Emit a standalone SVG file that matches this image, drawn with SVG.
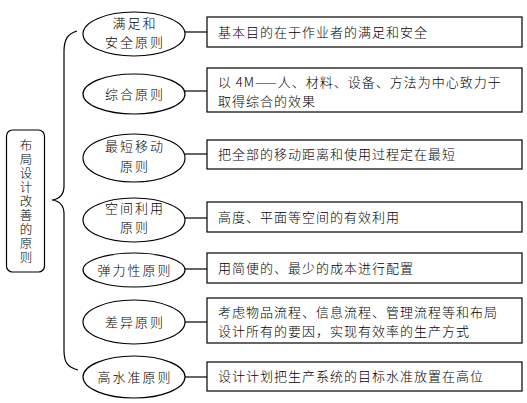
<svg xmlns="http://www.w3.org/2000/svg" width="527" height="403" viewBox="0 0 527 403">
<style>
  .shape { fill: #ffffff; stroke: #000000; stroke-width: 1.2; }
  .line { fill: none; stroke: #000000; stroke-width: 1.2; }
  text { font-family: "Noto Sans CJK SC", "Noto Sans", sans-serif; font-weight: 300; fill: #000000; }
  .el { font-size: 13px; text-anchor: middle; letter-spacing: 2px; }
  .bx { font-size: 13px; letter-spacing: 1px; }
  .root { font-size: 12.5px; writing-mode: vertical-rl; letter-spacing: 1.5px; }
</style>
<rect x="0" y="0" width="527" height="403" fill="#ffffff"/>
<g id="root">
  <rect class="shape" x="6.5" y="130" width="38" height="142" rx="6" ry="6"/>
  <text class="root" x="26" y="139">布局设计改善的原则</text>
</g>
<g id="connectors">
  <path class="line" d="M77,31 C67,34 64,40 64,52 L64,186 C64,195 60,199 52,200 C60,201 64,205 64,214 L64,350 C64,362 67,367 78,370"/>
  <line class="line" x1="185" y1="32" x2="207" y2="32"/>
  <line class="line" x1="185" y1="91" x2="207" y2="91"/>
  <line class="line" x1="185" y1="154" x2="207" y2="154"/>
  <line class="line" x1="185" y1="218" x2="207" y2="218"/>
  <line class="line" x1="185" y1="269" x2="207" y2="269"/>
  <line class="line" x1="185" y1="322" x2="207" y2="322"/>
  <line class="line" x1="185" y1="377" x2="207" y2="377"/>
</g>
<g id="n1">
  <ellipse class="shape" cx="134" cy="34" rx="51" ry="22"/>
  <text class="el" x="135" y="28">满足和<tspan x="135" dy="19">安全原则</tspan></text>
</g>
<g id="d1">
  <rect class="shape" x="207" y="17" width="315" height="30"/>
  <text class="bx" x="218" y="37">基本目的在于作业者的满足和安全</text>
</g>
<g id="n2">
  <ellipse class="shape" cx="134" cy="94" rx="51" ry="20"/>
  <text class="el" x="135" y="99">综合原则</text>
</g>
<g id="d2">
  <rect class="shape" x="207" y="68" width="315" height="44"/>
  <text class="bx" x="218" y="87">以 4M——人、材料、设备、方法为中心致力于<tspan x="218" dy="19">取得综合的效果</tspan></text>
</g>
<g id="n3">
  <ellipse class="shape" cx="134" cy="158" rx="51" ry="24"/>
  <text class="el" x="135" y="151">最短移动<tspan x="135" dy="20">原则</tspan></text>
</g>
<g id="d3">
  <rect class="shape" x="207" y="140" width="315" height="29"/>
  <text class="bx" x="218" y="159">把全部的移动距离和使用过程定在最短</text>
</g>
<g id="n4">
  <ellipse class="shape" cx="134" cy="220" rx="51" ry="22"/>
  <text class="el" x="135" y="213">空间利用<tspan x="135" dy="19">原则</tspan></text>
</g>
<g id="d4">
  <rect class="shape" x="207" y="202" width="315" height="30"/>
  <text class="bx" x="218" y="222">高度、平面等空间的有效利用</text>
</g>
<g id="n5">
  <ellipse class="shape" cx="134" cy="270" rx="51" ry="17"/>
  <text class="el" x="135" y="275">弹力性原则</text>
</g>
<g id="d5">
  <rect class="shape" x="207" y="253" width="315" height="30"/>
  <text class="bx" x="218" y="273">用简便的、最少的成本进行配置</text>
</g>
<g id="n6">
  <ellipse class="shape" cx="134" cy="322" rx="51" ry="22"/>
  <text class="el" x="135" y="327">差异原则</text>
</g>
<g id="d6">
  <rect class="shape" x="207" y="298" width="315" height="45"/>
  <text class="bx" x="218" y="317">考虑物品流程、信息流程、管理流程等和布局<tspan x="218" dy="19">设计所有的要因，实现有效率的生产方式</tspan></text>
</g>
<g id="n7">
  <ellipse class="shape" cx="134" cy="377" rx="51" ry="21"/>
  <text class="el" x="135" y="382">高水准原则</text>
</g>
<g id="d7">
  <rect class="shape" x="207" y="362" width="315" height="29"/>
  <text class="bx" x="218" y="381">设计计划把生产系统的目标水准放置在高位</text>
</g>
</svg>
